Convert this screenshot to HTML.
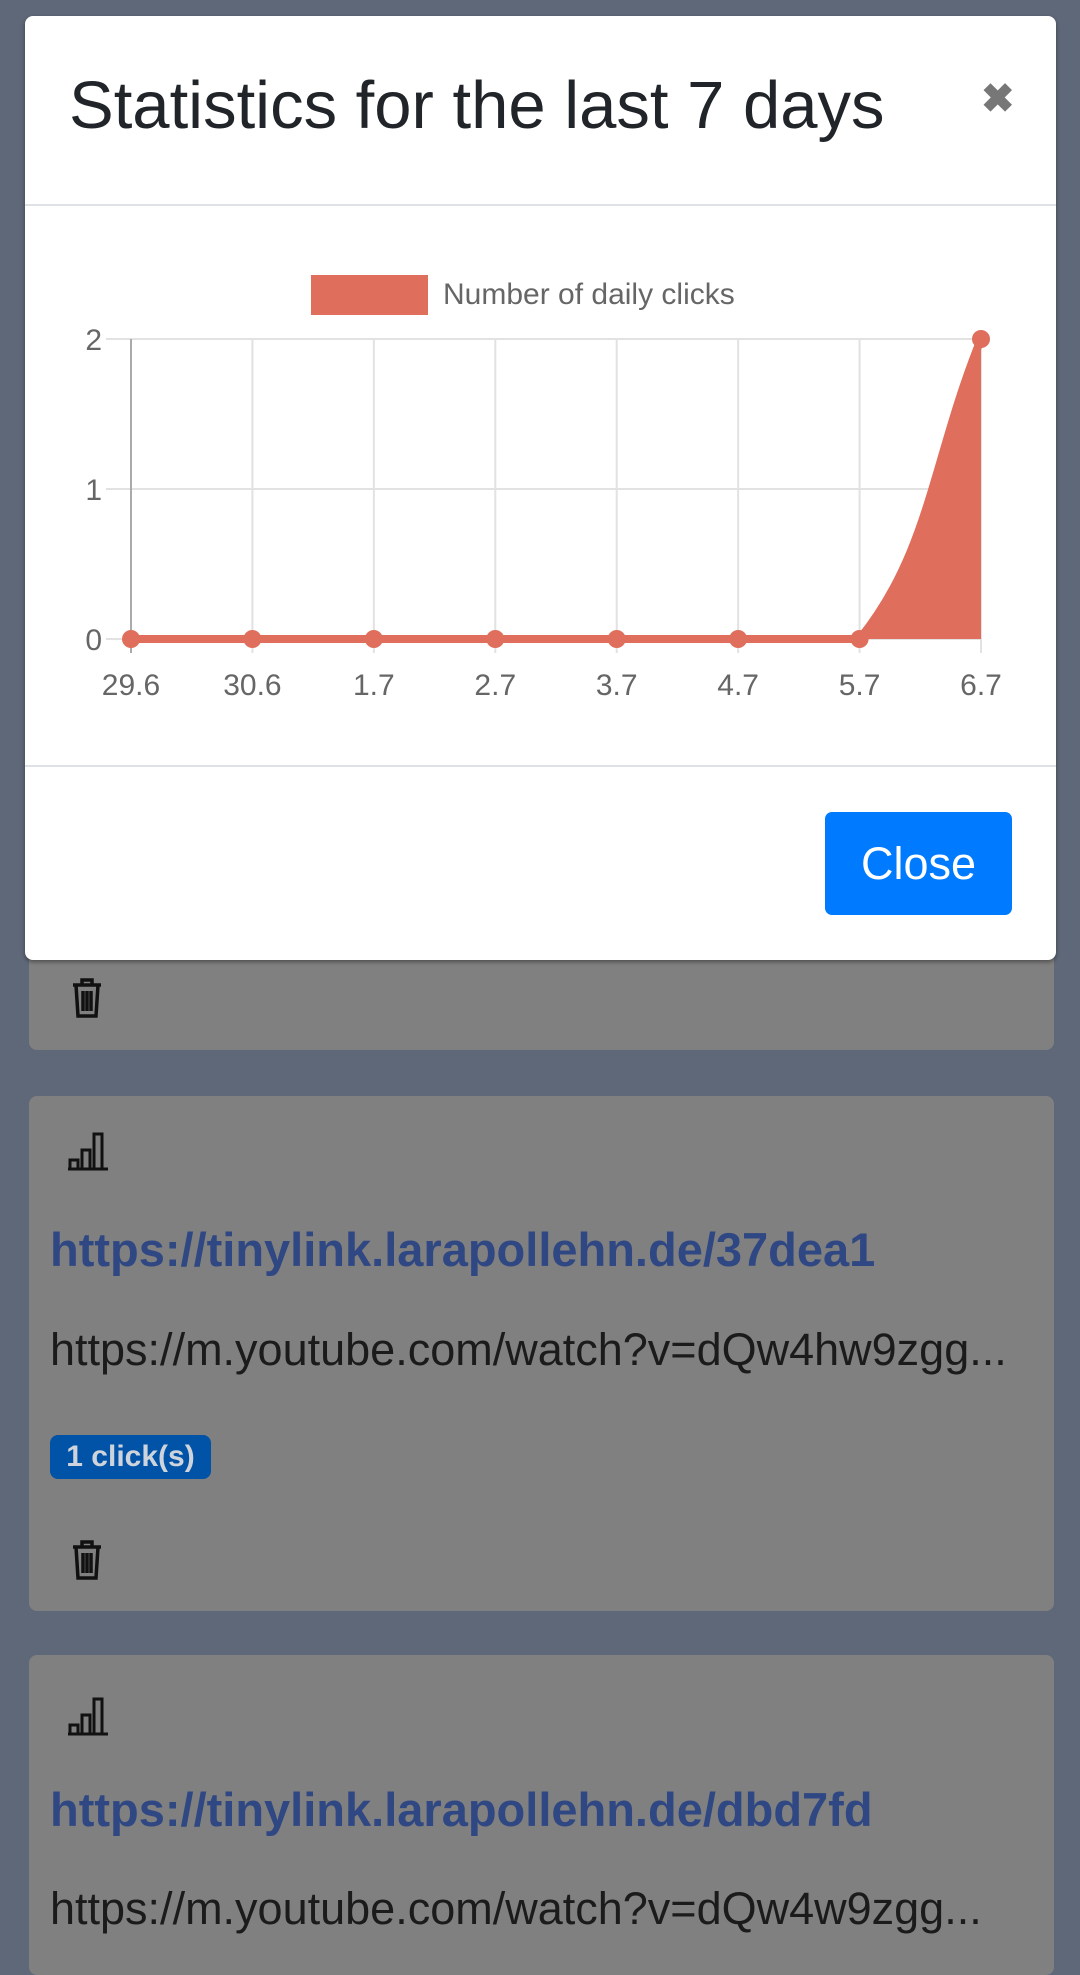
<!DOCTYPE html>
<html><head><meta charset="utf-8"><style>
html,body{margin:0;padding:0;}
body{width:1080px;height:1944px;background:#5f6878;position:relative;overflow:hidden;font-family:"Liberation Sans",sans-serif;}
.card{position:absolute;left:29px;width:1025px;background:#808080;border-radius:8px;}
.abs{position:absolute;}
.link{position:absolute;left:50px;font-weight:bold;font-size:47px;color:#2f4782;white-space:nowrap;}
.url{position:absolute;left:50px;font-size:45px;color:#1b1b1b;white-space:nowrap;}
</style></head><body>
<div class="card" style="top:940px;height:110px;"></div>
<svg class="abs" style="left:70px;top:976px" width="34" height="44" viewBox="0 0 34 44"><path d="M3 9h28M12 9V4h10v5M6 9l2 31h18l2-31M13 15v20M17 15v20M21 15v20" stroke="#111" stroke-width="3.5" fill="none"/></svg>

<div class="card" style="top:1096px;height:515px;"></div>
<svg class="abs" style="left:66px;top:1128px" width="44" height="44" viewBox="0 0 44 44"><path d="M2 41h40M4 41v-9h8v9M16 41V22h8v19M28 41V6h8v35" stroke="#111" stroke-width="3" fill="none"/></svg>
<div class="link" style="top:1222px">https://tinylink.larapollehn.de/37dea1</div>
<div class="url" style="top:1324px">https://m.youtube.com/watch?v=dQw4hw9zgg...</div>
<div class="abs" style="left:50px;top:1435px;width:161px;height:44px;background:#0053a6;border-radius:8px;color:#cfd4dc;font-weight:bold;font-size:30px;line-height:44px;text-align:center;">1 click(s)</div>
<svg class="abs" style="left:70px;top:1538px" width="34" height="44" viewBox="0 0 34 44"><path d="M3 9h28M12 9V4h10v5M6 9l2 31h18l2-31M13 15v20M17 15v20M21 15v20" stroke="#111" stroke-width="3.5" fill="none"/></svg>

<div class="card" style="top:1655px;height:320px;"></div>
<svg class="abs" style="left:66px;top:1693px" width="44" height="44" viewBox="0 0 44 44"><path d="M2 41h40M4 41v-9h8v9M16 41V22h8v19M28 41V6h8v35" stroke="#111" stroke-width="3" fill="none"/></svg>
<div class="link" style="top:1782px">https://tinylink.larapollehn.de/dbd7fd</div>
<div class="url" style="top:1883px">https://m.youtube.com/watch?v=dQw4w9zgg...</div>

<div class="abs" style="left:25px;top:16px;width:1031px;height:944px;background:#fff;border-radius:8px;box-shadow:0 2px 4px rgba(0,0,0,.4);">
  <div class="abs" style="left:44px;top:56px;font-size:67px;color:#212529;white-space:nowrap;line-height:1">Statistics for the last 7 days</div>
  <div class="abs" style="left:956px;top:60px;font-size:40px;font-weight:bold;color:#777;">&#10006;</div>
  <div class="abs" style="left:0;top:188px;width:1031px;height:2px;background:#dee2e6"></div>
  <div class="abs" style="left:0;top:749px;width:1031px;height:2px;background:#dee2e6"></div>
  <div class="abs" style="left:800px;top:796px;width:187px;height:103px;background:#007bff;border-radius:7px;color:#fff;font-size:45px;line-height:103px;text-align:center;">Close</div>
</div>
<svg class="abs" id="chart" style="left:0;top:0" width="1080" height="760"></svg>
<script>
const labels=["29.6","30.6","1.7","2.7","3.7","4.7","5.7","6.7"];
const clicks=[0,0,0,0,0,0,0,2];
const yTicks=[0,1,2];
const svg=document.getElementById('chart');const NS='http://www.w3.org/2000/svg';
const x0=131,x1=981,yb=639,yt=339,ymax=2;
const X=i=>x0+(x1-x0)*i/(labels.length-1);
const Y=v=>yb-(yb-yt)*v/ymax;
function mk(t,a,txt){const e=document.createElementNS(NS,t);for(const k in a)e.setAttribute(k,a[k]);if(txt!==undefined)e.textContent=txt;svg.appendChild(e);return e;}
const col='#e06e5c';
let e=mk('rect',{x:311,y:275,width:117,height:40,fill:col});

e=mk('text',{x:443,y:304,'font-size':30,fill:'#666','font-family':'Liberation Sans, sans-serif'},'Number of daily clicks');

yTicks.forEach(v=>{const y=Y(v);
 e=mk('line',{x1:x0-25,x2:x1,y1:y,y2:y,stroke:'#e2e2e2','stroke-width':2});
 e=mk('text',{x:x0-29,y:y+11,'font-size':30,fill:'#666','text-anchor':'end','font-family':'Liberation Sans, sans-serif'},String(v));});
labels.forEach((l,i)=>{const x=X(i);
 e=mk('line',{x1:x,x2:x,y1:yt,y2:yb+14,stroke:i==0?'#aaa':'#e2e2e2','stroke-width':2});
 e=mk('text',{x:x,y:695,'font-size':30,fill:'#666','text-anchor':'middle','font-family':'Liberation Sans, sans-serif'},l);});
const pts=clicks.map((v,i)=>({x:X(i),y:Y(v)}));
const t=0.4;const cps=pts.map((p,i)=>{const pr=pts[i-1]||p,nx=pts[i+1]||p;
 const d01=Math.hypot(p.x-pr.x,p.y-pr.y),d12=Math.hypot(nx.x-p.x,nx.y-p.y);
 let s01=d01/(d01+d12)||0,s12=d12/(d01+d12)||0;const fa=t*s01,fb=t*s12;
 const cl=v=>Math.max(yt,Math.min(yb,v));
 return {px:p.x-fa*(nx.x-pr.x),py:cl(p.y-fa*(nx.y-pr.y)),nx:p.x+fb*(nx.x-pr.x),ny:cl(p.y+fb*(nx.y-pr.y))};});
let d='M'+pts[0].x+' '+pts[0].y;
for(let i=1;i<pts.length;i++)d+=` C${cps[i-1].nx} ${cps[i-1].ny} ${cps[i].px} ${cps[i].py} ${pts[i].x} ${pts[i].y}`;
e=mk('path',{d:d+` L${pts[pts.length-1].x} ${yb} L${pts[0].x} ${yb}Z`,fill:col});
e=mk('path',{d:d,fill:'none',stroke:col,'stroke-width':8});
pts.forEach(p=>{e=mk('circle',{cx:p.x,cy:p.y,r:9,fill:col});});
</script>
</body></html>
